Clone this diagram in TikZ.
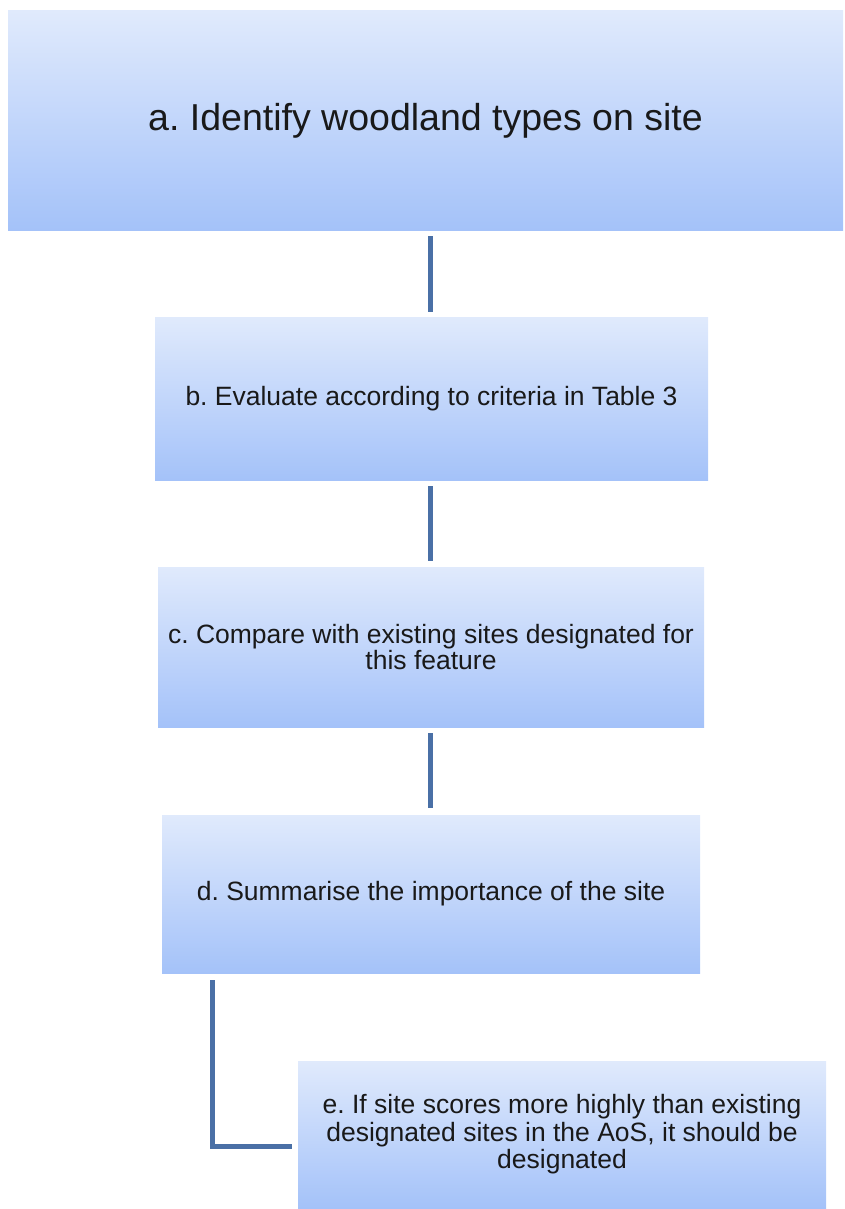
\documentclass[tikz,border=0pt]{standalone}
\usepackage{fontspec}
\setmainfont{Liberation Sans}
\usetikzlibrary{positioning,calc}
\frenchspacing

\definecolor{boxtop}{HTML}{E0EAFC}
\definecolor{boxbot}{HTML}{A4C2F9}
\definecolor{linkblue}{HTML}{4A70A6}

\begin{document}
\begin{tikzpicture}
            [x=1pt,y=1pt,
            every node/.style={font=\fontsize{26.5}{25.5}\selectfont,align=center,inner sep=0pt,text=black!90},
            stepbox/.style={rectangle,top color=boxtop,bottom color=boxbot,draw=none},
            link/.style={draw=linkblue,line width=5pt}
            ]
            \useasboundingbox (0,0) rectangle (844,-1209);
            \node[stepbox,minimum width=835pt,minimum height=219pt,
                  font=\fontsize{37.5}{40}\selectfont] (a) at (425.5,-120.5) {a. Identify woodland types on site};
            \node[stepbox,minimum width=553pt,minimum height=163pt] (b) at (431.5,-398.5) {b. Evaluate according to criteria in Table 3};
            \node[stepbox,minimum width=546pt,minimum height=160pt] (c) at (431,-647) {c. Compare with existing sites designated for\\this feature};
            \node[stepbox,minimum width=538pt,minimum height=158pt] (d) at (431,-894) {d. Summarise the importance of the site};
            \node[stepbox,minimum width=528pt,minimum height=147pt,
                  font=\fontsize{26.5}{27.5}\selectfont] (e) at (562,-1134.5) {e. If site scores more highly than existing\\designated sites in the AoS, it should be\\designated};
            % links between the steps
            \draw[link] ($(a.south)+(4.5,-6)$) -- ($(b.north)+(-1.5,5)$);
            \draw[link] ($(b.south)+(-1.5,-6)$) -- ($(c.north)+(-1,6)$);
            \draw[link] ($(c.south)+(-1,-6)$) -- ($(d.north)+(-1,7)$);
            \coordinate (dfoot) at ($(d.south west)+(51,-7)$);
            \coordinate (eleft) at ($(e.west)+(-6,-11.5)$);
            \draw[link] (dfoot) |- (eleft);
          \end{tikzpicture}
\end{document}
